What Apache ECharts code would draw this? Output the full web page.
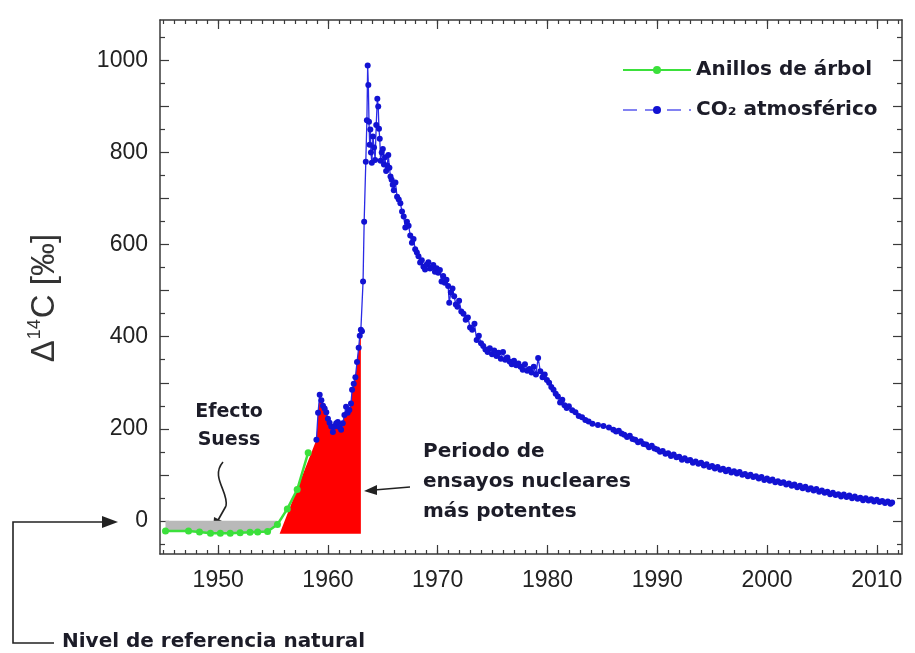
<!DOCTYPE html>
<html>
<head>
<meta charset="utf-8">
<title>Δ14C atmosférico</title>
<script src="https://cdn.jsdelivr.net/npm/echarts@6/dist/echarts.min.js"></script>
<style>html,body{margin:0;background:#fff;}</style>
</head>
<body>
<div id="main" style="width:915px;height:653px;"></div>
<script type="text/javascript">
// anillos de árbol (año, Δ14C)
var treeYears  = [1945.2, 1947.3, 1948.3, 1949.3, 1950.2, 1951.1, 1952.0, 1952.9, 1953.6, 1954.5, 1955.4, 1956.3, 1957.2, 1958.2];
var treeValues = [-22, -22, -24, -27, -27, -27, -26, -25, -24, -23, -8, 26, 68, 148];

// CO2 atmosférico (año, Δ14C)
var co2Years = [
  1958.95, 1959.10, 1959.25, 1959.40, 1959.55, 1959.70, 1959.85,
  1960.00, 1960.15, 1960.30, 1960.45, 1960.60, 1960.75, 1960.90,
  1961.05, 1961.20, 1961.35, 1961.50, 1961.65, 1961.80, 1961.95,
  1962.10, 1962.20, 1962.35, 1962.50, 1962.65, 1962.80, 1962.90,
  1963.00, 1963.10, 1963.20, 1963.30, 1963.45, 1963.55, 1963.62, 1963.68, 1963.74, 1963.80, 1963.86, 1963.92,
  1964.00, 1964.10, 1964.20, 1964.30, 1964.40, 1964.50, 1964.58, 1964.65, 1964.72, 1964.80, 1964.90,
  1965.00, 1965.10, 1965.20, 1965.30, 1965.40, 1965.50, 1965.60, 1965.70, 1965.80, 1965.90,
  1966.00, 1966.15, 1966.30, 1966.45, 1966.60, 1966.75, 1966.90,
  1967.05, 1967.20, 1967.35, 1967.50, 1967.65, 1967.80, 1967.95,
  1968.10, 1968.25, 1968.40, 1968.55, 1968.70, 1968.85,
  1969.00, 1969.15, 1969.30, 1969.45, 1969.60, 1969.75, 1969.90,
  1970.05, 1970.20, 1970.35, 1970.50, 1970.65, 1970.80, 1970.95,
  1971.05, 1971.20, 1971.35, 1971.50, 1971.65, 1971.80, 1971.95,
  1972.15, 1972.35, 1972.55, 1972.75, 1972.95,
  1973.15, 1973.35, 1973.55, 1973.75, 1973.95,
  1974.15, 1974.35, 1974.55, 1974.75, 1974.95,
  1975.15, 1975.35, 1975.55, 1975.75, 1975.95,
  1976.15, 1976.35, 1976.55, 1976.75, 1976.95,
  1977.15, 1977.35, 1977.55, 1977.75, 1977.95,
  1978.15, 1978.35, 1978.55, 1978.75, 1978.95,
  1979.15, 1979.35, 1979.55, 1979.75, 1979.95,
  1980.15, 1980.35, 1980.55, 1980.75, 1980.95,
  1981.15, 1981.35, 1981.55, 1981.75, 1981.95,
  1982.25, 1982.55, 1982.85, 1983.15, 1983.45, 1983.75,
  1984.10, 1984.60, 1985.10, 1985.60,
  1986.00, 1986.25, 1986.50, 1986.75, 1987.00, 1987.25, 1987.50, 1987.75,
  1988.00, 1988.25, 1988.50, 1988.75, 1989.00, 1989.25, 1989.50, 1989.75,
  1990.00, 1990.25, 1990.50, 1990.75, 1991.00, 1991.25, 1991.50, 1991.75,
  1992.00, 1992.25, 1992.50, 1992.75, 1993.00, 1993.25, 1993.50, 1993.75,
  1994.00, 1994.25, 1994.50, 1994.75, 1995.00, 1995.25, 1995.50, 1995.75,
  1996.00, 1996.25, 1996.50, 1996.75, 1997.00, 1997.25, 1997.50, 1997.75,
  1998.00, 1998.25, 1998.50, 1998.75, 1999.00, 1999.25, 1999.50, 1999.75,
  2000.00, 2000.25, 2000.50, 2000.75, 2001.00, 2001.25, 2001.50, 2001.75,
  2002.00, 2002.25, 2002.50, 2002.75, 2003.00, 2003.25, 2003.50, 2003.75,
  2004.00, 2004.25, 2004.50, 2004.75, 2005.00, 2005.25, 2005.50, 2005.75,
  2006.00, 2006.25, 2006.50, 2006.75, 2007.00, 2007.25, 2007.50, 2007.75,
  2008.00, 2008.25, 2008.50, 2008.75, 2009.00, 2009.25, 2009.50, 2009.75,
  2010.00, 2010.25, 2010.50, 2010.75, 2011.00, 2011.25, 2011.40
];
var co2Values = [
  176, 235, 274, 262, 250, 244, 236,
  222, 213, 205, 193, 205, 212, 215,
  204, 198, 212, 230, 248, 235, 241,
  255, 285, 298, 312, 345, 376, 402,
  415, 412, 520, 650, 780, 870, 989, 947, 867, 817, 850, 800,
  778, 835, 811, 784, 860, 917, 900, 852, 830, 782, 800,
  808, 774, 790, 760, 772, 795, 767, 748, 741, 730,
  718, 735, 704, 698, 690, 672, 661,
  637, 650, 641, 620, 604, 612, 590,
  583, 575, 561, 566, 552, 546,
  557, 562, 548, 551, 556, 541, 549,
  539, 545, 520, 532, 517, 524, 510,
  474, 496, 505, 488, 470, 465, 478,
  455, 450, 437, 442, 420,
  415, 428, 393, 402, 386,
  380, 372, 367, 375, 362,
  370, 358, 365, 352, 367,
  350, 355, 346, 340, 348,
  338, 342, 335, 328, 340,
  326, 330, 322, 335, 318,
  354, 325, 312, 318, 306,
  300, 291, 285, 276, 270,
  257, 263, 251, 245, 249,
  240, 236, 228, 225, 219, 216,
  211, 208, 206, 203,
  198, 194, 196, 190, 187, 182, 185, 178,
  176, 171, 173, 167, 166, 160, 163, 157,
  155, 150, 152, 146, 147, 141, 144, 138,
  139, 133, 136, 131, 132, 126, 129, 124,
  126, 120, 123, 117, 119, 114, 117, 111,
  113, 108, 111, 105, 108, 103, 106, 100,
  102, 97, 100, 95, 97, 92, 95, 89,
  92, 87, 90, 84, 86, 82, 84, 79,
  81, 76, 79, 73, 76, 71, 74, 68,
  71, 66, 69, 63, 66, 61, 63, 58,
  61, 56, 58, 53, 57, 52, 55, 49,
  53, 48, 50, 45, 49, 44, 47, 42,
  46, 41, 43, 39, 42, 37, 40
];

// zona roja: desde el arranque de la subida hasta el fin de 1962
var redStartYear = 1955.6, redEndYear = 1963.0, redBase = -28;
// efecto Suess: hasta donde la curva de anillos cruza el nivel de referencia
var suessEndYear = 1955.5;

var xDecades = [1950, 1960, 1970, 1980, 1990, 2000, 2010];
var xYears = [];
for (var yr = 1945; yr <= 2012; yr++) xYears.push(yr);
var yLabels = [0, 200, 400, 600, 800, 1000];
var yMajor = [0, 100, 200, 300, 400, 500, 600, 700, 800, 900, 1000];
var yMinor = [-50, 50, 150, 250, 350, 450, 550, 650, 750, 850, 950, 1050];

var X_MIN = 1944.7, X_MAX = 2012.3, Y_MIN = -72, Y_MAX = 1088;
var FONT = '"Liberation Sans", Arial, sans-serif';
var BOLD = '"DejaVu Sans", Verdana, sans-serif';
var AXC = '#3a3a3a';
var TXT = '#1c1c28';

var treeData = treeYears.map(function (x, i) { return [x, treeValues[i]]; });
var co2Data = co2Years.map(function (x, i) { return [x, co2Values[i]]; });
var suessData = treeData.filter(function (p) { return p[0] <= suessEndYear; });
var redData = [[redStartYear, redBase]].concat(co2Data.filter(function (p) { return p[0] <= redEndYear; }));

function plain(v) { return String(v); }

function xAx(pos, ticks, len, labels) {
    return {
        type: 'value', position: pos, min: X_MIN, max: X_MAX,
        axisLine: { show: len > 5, onZero: false, lineStyle: { color: AXC, width: 1.5 } },
        axisTick: { inside: true, length: len, customValues: ticks, lineStyle: { color: AXC, width: 1.2 } },
        axisLabel: labels ? { customValues: labels, formatter: plain, fontSize: 23, color: '#222', margin: 15, fontFamily: FONT } : { show: false },
        splitLine: { show: false }
    };
}
function yAx(pos, ticks, len, labels) {
    return {
        type: 'value', position: pos, min: Y_MIN, max: Y_MAX,
        axisLine: { show: len > 5, onZero: false, lineStyle: { color: AXC, width: 1.5 } },
        axisTick: { show: true, inside: true, length: len, customValues: ticks, lineStyle: { color: AXC, width: 1.2 } },
        axisLabel: labels ? { customValues: labels, formatter: plain, fontSize: 23, color: '#222', margin: 12, fontFamily: FONT } : { show: false },
        splitLine: { show: false }
    };
}

var myChart = echarts.init(document.getElementById('main'));

var yMain = yAx('left', yMajor, 9, yLabels);
yMain.name = '{d|Δ}{s|14}{d|C [‰]}';
yMain.nameLocation = 'middle';
yMain.nameGap = 96;
yMain.nameTextStyle = {
    padding: [0, 22, 0, 0],
    rich: {
        d: { fontSize: 33, color: '#333', fontFamily: FONT, lineHeight: 38 },
        s: { fontSize: 18, color: '#333', fontFamily: FONT, lineHeight: 38, verticalAlign: 'top', padding: [0, 1, 12, 1] }
    }
};

var option = {
    animation: false,
    backgroundColor: '#fff',
    grid: { left: 160, right: 13, top: 20, bottom: 99 },
    legend: {
        orient: 'vertical', left: 622, top: 60, padding: 0,
        itemWidth: 68, itemHeight: 10, itemGap: 20,
        textStyle: { fontSize: 20, fontWeight: 'bold', color: TXT, fontFamily: BOLD },
        data: [
            { name: 'Anillos de árbol' },
            { name: 'CO₂ atmosférico', lineStyle: { type: [14, 8], width: 1.5, color: '#5a5aee' } }
        ]
    },
    xAxis: [
        xAx('bottom', xDecades, 9, xDecades),
        xAx('bottom', xYears, 4),
        xAx('top', xDecades, 9),
        xAx('top', xYears, 4)
    ],
    yAxis: [
        yMain,
        yAx('left', yMinor, 5),
        yAx('right', yMajor, 9),
        yAx('right', yMinor, 5)
    ],
    series: [
        {
            name: 'suess', type: 'line', data: suessData, symbol: 'none', silent: true, z: 1,
            lineStyle: { width: 0 },
            areaStyle: { color: '#b9b9b9', opacity: 1, origin: 0 }
        },
        {
            name: 'ensayos', type: 'line', data: redData, symbol: 'none', silent: true, z: 2,
            lineStyle: { width: 0 },
            areaStyle: { color: '#ff0000', opacity: 1, origin: redBase }
        },
        {
            name: 'Anillos de árbol', type: 'line', data: treeData, z: 3,
            symbol: 'circle', symbolSize: 7,
            itemStyle: { color: '#3be03b' },
            lineStyle: { color: '#3be03b', width: 2.5 }
        },
        {
            name: 'CO₂ atmosférico', type: 'line', data: co2Data, z: 4,
            symbol: 'circle', symbolSize: 6,
            itemStyle: { color: '#1212d2' },
            lineStyle: { color: '#2a2ae6', width: 1.3 }
        }
    ],
    graphic: [
        // Efecto Suess
        { type: 'text', x: 229, y: 398, style: { text: 'Efecto\nSuess', fontSize: 19, fontWeight: 'bold', fontFamily: BOLD, fill: TXT, align: 'center', verticalAlign: 'top', lineHeight: 28 } },
        { type: 'bezierCurve', shape: { x1: 223, y1: 462, cpx1: 210, cpy1: 477, cpx2: 229, cpy2: 492, x2: 226, y2: 506 }, style: { fill: null, stroke: '#222', lineWidth: 1.6 } },
        { type: 'line', shape: { x1: 226, y1: 506, x2: 217, y2: 522 }, style: { stroke: '#222', lineWidth: 1.6 } },
        { type: 'polygon', shape: { points: [[213, 530], [222, 521], [214, 517]] }, style: { fill: '#222' } },
        // Periodo de ensayos
        { type: 'text', x: 423, y: 437, style: { text: 'Periodo de\nensayos nucleares\nmás potentes', fontSize: 20, fontWeight: 'bold', fontFamily: BOLD, fill: TXT, align: 'left', verticalAlign: 'top', lineHeight: 30 } },
        { type: 'line', shape: { x1: 410, y1: 487, x2: 374, y2: 490 }, style: { stroke: '#222', lineWidth: 1.6 } },
        { type: 'polygon', shape: { points: [[364, 491], [377, 485], [377, 495]] }, style: { fill: '#222' } },
        // Nivel de referencia natural
        { type: 'polyline', shape: { points: [[54, 643], [13, 643], [13, 522], [103, 522]] }, style: { stroke: '#222', lineWidth: 1.6, fill: null } },
        { type: 'polygon', shape: { points: [[118, 522], [102, 516], [102, 528]] }, style: { fill: '#222' } },
        { type: 'text', x: 62, y: 642, style: { text: 'Nivel de referencia natural', fontSize: 20, fontWeight: 'bold', fontFamily: BOLD, fill: TXT, align: 'left', verticalAlign: 'middle' } }
    ]
};

myChart.setOption(option);
</script>
</body>
</html>
